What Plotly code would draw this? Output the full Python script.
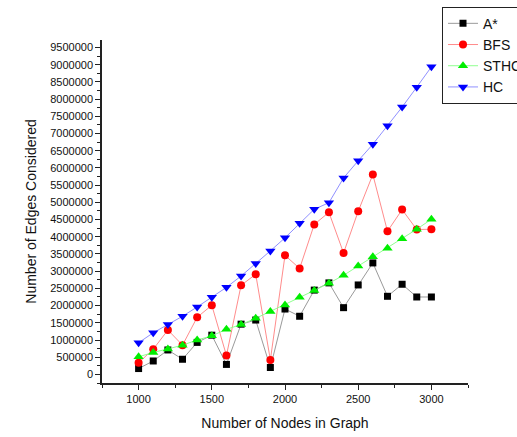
import plotly.graph_objects as go

nodes = [1000, 1100, 1200, 1300, 1400, 1500, 1600, 1700, 1800, 1900, 2000,
         2100, 2200, 2300, 2400, 2500, 2600, 2700, 2800, 2900, 3000]
astar = [170000, 390000, 710000, 440000, 930000, 1140000, 290000, 1460000, 1580000, 200000, 1900000,
         1690000, 2450000, 2660000, 1940000, 2600000, 3240000, 2270000, 2620000, 2250000, 2250000]
bfs = [340000, 730000, 1290000, 850000, 1660000, 2010000, 550000, 2590000, 2910000, 420000, 3460000,
       3080000, 4360000, 4710000, 3530000, 4740000, 5810000, 4160000, 4790000, 4210000, 4220000]
sthc = [510000, 640000, 740000, 850000, 1000000, 1120000, 1310000, 1450000, 1630000, 1830000, 2020000,
        2240000, 2440000, 2650000, 2880000, 3150000, 3420000, 3670000, 3940000, 4220000, 4510000]
hc = [920000, 1210000, 1450000, 1690000, 1960000, 2240000, 2530000, 2860000, 3220000, 3590000, 3970000,
      4390000, 4800000, 4990000, 5710000, 6210000, 6690000, 7230000, 7770000, 8350000, 8940000]

series = [
    ("A*", astar, "#000000", "#9a9a9a", "square", 7),
    ("BFS", bfs, "#ff0000", "#ff8c8c", "circle", 8),
    ("STHC", sthc, "#00ee00", "#90ff90", "triangle-up", 9),
    ("HC", hc, "#0000ff", "#9090ff", "triangle-down", 9),
]

fig = go.Figure()
for name, vals, mcol, lcol, sym, size in series:
    fig.add_trace(go.Scatter(
        x=nodes, y=vals, name=name, mode="lines+markers",
        line=dict(color=lcol, width=1),
        marker=dict(color=mcol, symbol=sym, size=size, line=dict(width=0)),
    ))

axis_common = dict(
    showline=True, linecolor="#222222", linewidth=1.5,
    showgrid=False, zeroline=False,
    ticks="outside", ticklen=5, tickwidth=1, tickcolor="#222222",
    tickfont=dict(family="Liberation Sans, Arial, sans-serif", size=11, color="#111111"),
    title_font=dict(family="Liberation Sans, Arial, sans-serif", size=14, color="#111111"),
)

fig.update_layout(
    width=517, height=437,
    margin=dict(l=102, r=49, t=40, b=54, autoexpand=False),
    paper_bgcolor="white", plot_bgcolor="white",
    font=dict(family="Liberation Sans, Arial, sans-serif", color="#111111"),
    xaxis=dict(
        range=[750, 3250], tick0=1000, dtick=500,
        minor=dict(dtick=250, ticklen=3, ticks="outside", tickcolor="#222222"),
        title=dict(text="Number of Nodes in Graph", standoff=14),
        **axis_common,
    ),
    yaxis=dict(
        range=[-250000, 9720000], tick0=0, dtick=500000, tickformat="d",
        minor=dict(dtick=250000, ticklen=3, ticks="outside", tickcolor="#222222"),
        title=dict(text="Number of Edges Considered", standoff=10),
        **axis_common,
    ),
    legend=dict(
        x=0.929, y=1.097, xanchor="left", yanchor="top",
        bgcolor="white", bordercolor="#222222", borderwidth=1,
        font=dict(family="Liberation Sans, Arial, sans-serif", size=14, color="#111111"),
        tracegroupgap=0,
    ),
    showlegend=True,
)

fig.write_html("out.html", config={"displayModeBar": False},
               post_script="document.body.style.margin='0';")
